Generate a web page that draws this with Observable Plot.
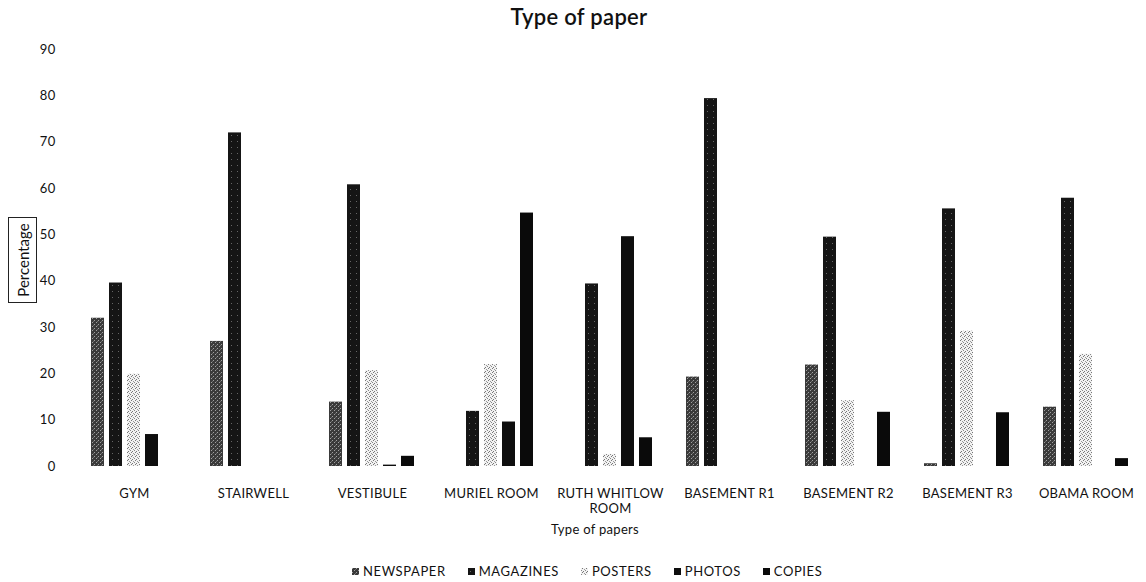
<!DOCTYPE html>
<html>
<head>
<meta charset="utf-8">
<script src="https://cdn.jsdelivr.net/npm/d3@7"></script>
<script src="https://cdn.jsdelivr.net/npm/@observablehq/plot@0.6"></script>
<style>
  html, body { margin: 0; padding: 0; background: #fff; }
  #wrap { position: relative; width: 1146px; height: 582px; background: #fff; font-family: Lato, "Open Sans", sans-serif; color: #111; overflow: hidden; }
  .abs { position: absolute; white-space: nowrap; }
  #title { top: 3px; left: 579px; transform: translateX(-50%); font-size: 22px; font-weight: 600; letter-spacing: 0.3px; }
  #chart { position: absolute; top: 36px; left: 0; }
  #ylab { left: 8px; top: 217px; width: 27px; height: 84px; border: 1px solid #222; }
  #ylab span { position: absolute; left: 50%; top: 50%; transform: translate(-50%, -50%) rotate(-90deg); font-size: 15px; }
  #xlab { top: 521px; left: 595px; transform: translateX(-50%); font-size: 13px; letter-spacing: 0.3px; }
  #legend { top: 563px; left: 352px; font-size: 13px; letter-spacing: 0.6px; display: flex; gap: 22px; align-items: center; }
  #legend .item { display: flex; align-items: center; gap: 4px; }
</style>
</head>
<body>
<svg width="0" height="0" style="position:absolute">
  <defs>
    <pattern id="pNews" width="4" height="4" patternUnits="userSpaceOnUse">
      <rect width="4" height="4" fill="#3a3a3a"/>
      <rect x="0" y="0" width="1" height="1" fill="#a0a0a0"/>
      <rect x="2" y="2" width="1" height="1" fill="#a0a0a0"/>
      <rect x="3" y="1" width="1" height="1" fill="#6a6a6a"/>
    </pattern>
    <pattern id="pMag" width="6" height="6" patternUnits="userSpaceOnUse">
      <rect width="6" height="6" fill="#151515"/>
      <rect x="2" y="3" width="1" height="1" fill="#666"/>
    </pattern>
    <pattern id="pPost" width="4" height="4" patternUnits="userSpaceOnUse">
      <rect width="4" height="4" fill="#f2f2f2"/>
      <rect x="1" y="0" width="1" height="1" fill="#777"/>
      <rect x="3" y="1" width="1" height="1" fill="#999"/>
      <rect x="0" y="2" width="1" height="1" fill="#888"/>
      <rect x="2" y="3" width="1" height="1" fill="#777"/>
    </pattern>
    <pattern id="pPhoto" width="4" height="4" patternUnits="userSpaceOnUse">
      <rect width="4" height="4" fill="#0e0e0e"/>
    </pattern>
    <pattern id="pCopy" width="4" height="4" patternUnits="userSpaceOnUse">
      <rect width="4" height="4" fill="#0a0a0a"/>
    </pattern>
  </defs>
</svg>
<div id="wrap">
  <div id="title" class="abs">Type of paper</div>
  <div id="chart"></div>
  <div id="ylab" class="abs"><span>Percentage</span></div>
  <div id="xlab" class="abs">Type of papers</div>
  <div id="legend" class="abs"></div>
</div>
<script>
const rooms = ["GYM", "STAIRWELL", "VESTIBULE", "MURIEL ROOM", "RUTH WHITLOW ROOM", "BASEMENT R1", "BASEMENT R2", "BASEMENT R3", "OBAMA ROOM"];
const series = ["NEWSPAPER", "MAGAZINES", "POSTERS", "PHOTOS", "COPIES"];
const newspaper = [32.0, 27.0, 13.9, 0, 0, 19.3, 21.9, 0.6, 12.8];
const magazines = [39.6, 72.0, 60.8, 11.9, 39.4, 79.4, 49.5, 55.6, 57.9];
const posters   = [19.9, 0, 20.7, 22.0, 2.6, 0, 14.2, 29.2, 24.2];
const photos    = [6.9, 0, 0.3, 9.6, 49.6, 0, 0, 0, 0];
const copies    = [0, 0, 2.2, 54.7, 6.2, 0, 11.7, 11.6, 1.7];
const yTicks = [0, 10, 20, 30, 40, 50, 60, 70, 80, 90];

const fills = ["url(#pNews)", "url(#pMag)", "url(#pPost)", "url(#pPhoto)", "url(#pCopy)"];
const valuesBySeries = [newspaper, magazines, posters, photos, copies];
const data = [];
rooms.forEach((room, i) => {
  series.forEach((s, j) => {
    data.push({room, series: s, value: valuesBySeries[j][i]});
  });
});

const chart = Plot.plot({
  width: 1146,
  height: 484,
  marginLeft: 74,
  marginRight: 0,
  marginTop: 13,
  marginBottom: 54,
  style: {fontFamily: "Lato, 'Open Sans', sans-serif", fontSize: "13px", color: "#111", background: "transparent", letterSpacing: "0.3px"},
  fx: {
    domain: rooms,
    paddingInner: 0.227,
    paddingOuter: 0.1135,
    label: null
  },
  x: {domain: series, paddingInner: 0.27, paddingOuter: 0.135, axis: null},
  y: {domain: [0, 90], label: null},
  color: {domain: series, range: fills},
  marks: [
    Plot.axisY({ticks: yTicks, tickSize: 0, tickPadding: 33, label: null}),
    Plot.axisFx({
      anchor: "bottom",
      tickSize: 0,
      tickPadding: 20,
      lineHeight: 1.2,
      label: null,
      tickFormat: d => d === "RUTH WHITLOW ROOM" ? "RUTH WHITLOW\nROOM" : d
    }),
    Plot.barY(data, {fx: "room", x: "series", y: "value", fill: "series"})
  ]
});
document.getElementById("chart").appendChild(chart);

const legend = document.getElementById("legend");
series.forEach((s, j) => {
  const item = document.createElement("div");
  item.className = "item";
  item.innerHTML = `<svg width="7" height="7"><rect width="7" height="7" fill="${fills[j]}"/></svg><span>${s}</span>`;
  legend.appendChild(item);
});
</script>
</body>
</html>
